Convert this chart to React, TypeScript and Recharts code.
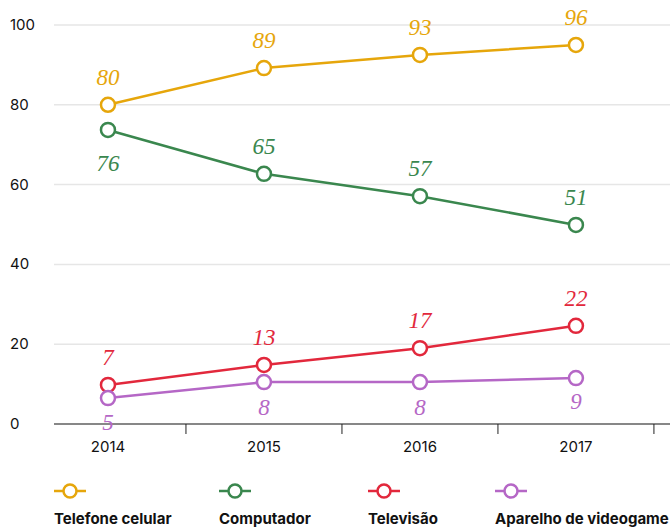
import { LineChart, Line, XAxis, YAxis, CartesianGrid, LabelList } from 'recharts';

const years = [2014, 2015, 2016, 2017];

// plotted positions as drawn in the picture
const telefone = [80, 89.2, 92.5, 95];
const computador = [73.7, 62.7, 57.1, 49.9];
const televisao = [9.8, 14.8, 19, 24.6];
const videogame = [6.5, 10.5, 10.5, 11.5];

// printed value labels
const telefoneLabels = ['80', '89', '93', '96'];
const computadorLabels = ['76', '65', '57', '51'];
const televisaoLabels = ['7', '13', '17', '22'];
const videogameLabels = ['5', '8', '8', '9'];

const yTicks = [0, 20, 40, 60, 80, 100];

const data = years.map((year, i) => ({
	year,
	telefone: telefone[i],
	computador: computador[i],
	televisao: televisao[i],
	videogame: videogame[i],
	telefoneLabel: telefoneLabels[i],
	computadorLabel: computadorLabels[i],
	televisaoLabel: televisaoLabels[i],
	videogameLabel: videogameLabels[i],
}));

const SERIES = [
	{ key: 'telefone', name: 'Telefone celular', color: '#E6A60B', offsets: [-28, -28, -28, -28], legendX: 54 },
	{ key: 'computador', name: 'Computador', color: '#3A874E', offsets: [33, -28, -28, -28], legendX: 219 },
	{ key: 'televisao', name: 'Televisão', color: '#E2283C', offsets: [-28, -28, -28, -28], legendX: 368 },
	{ key: 'videogame', name: 'Aparelho de videogame', color: '#B567C6', offsets: [24, 25, 25, 23], legendX: 495 },
];

const SANS = 'Inter, Roboto, sans-serif';
const SERIF = '"Liberation Serif", "DejaVu Serif", serif';

const XTick = (props: any) => {
	const { x, y, payload } = props;
	if (Number.isInteger(payload.value)) {
		return (
			<text x={x} y={y + 28} textAnchor="middle" fontSize={15} fontFamily={SANS} fill="#111">
				{payload.value}
			</text>
		);
	}
	return <line x1={x} x2={x} y1={y} y2={y + 10} stroke="#222" strokeWidth={1} />;
};

const YTick = (props: any) => {
	const { y, payload } = props;
	return (
		<text x={10} y={y + 5} textAnchor="start" fontSize={15} fontFamily={SANS} fill="#111">
			{payload.value}
		</text>
	);
};

const makeLabel = (color: string, offsets: number[]) => (props: any) => {
	const { x, y, value, index } = props;
	return (
		<text
			x={x}
			y={y + offsets[index] + 8}
			textAnchor="middle"
			fontSize={23}
			fontStyle="italic"
			fontFamily={SERIF}
			fill={color}>
			{value}
		</text>
	);
};

const LegendIcon = ({ color }: { color: string }) => (
	<svg width={32} height={16} style={{ display: 'block' }}>
		<line x1={0} x2={32} y1={8} y2={8} stroke={color} strokeWidth={2.5} />
		<circle cx={16} cy={8} r={6.5} fill="#fff" stroke={color} strokeWidth={2.5} />
	</svg>
);

export default function App() {
	return (
		<div style={{ position: 'absolute', left: 0, top: 0, width: 670, height: 528, background: '#fff' }}>
			<LineChart width={670} height={528} data={data} margin={{ top: 25, right: 0, bottom: 0, left: 0 }}>
				<CartesianGrid vertical={false} stroke="#e6e6e6" strokeWidth={1.5} />
				<XAxis
					dataKey="year"
					type="number"
					domain={[2013.654, 2017.603]}
					allowDataOverflow
					ticks={[2014, 2014.5, 2015, 2015.5, 2016, 2016.5, 2017, 2017.5]}
					interval={0}
					tick={<XTick />}
					tickLine={false}
					tickSize={0}
					tickMargin={0}
					height={104}
					axisLine={{ stroke: '#222', strokeWidth: 1.2 }}
				/>
				<YAxis
					domain={[0, 100]}
					ticks={yTicks}
					width={54}
					axisLine={false}
					tickLine={false}
					tick={<YTick />}
				/>
				{SERIES.map((s) => (
					<Line
						key={s.key}
						dataKey={s.key}
						name={s.name}
						stroke={s.color}
						strokeWidth={2.5}
						dot={{ r: 7, fill: '#fff', stroke: s.color, strokeWidth: 2.5 }}
						activeDot={false}
						isAnimationActive={false}>
						<LabelList dataKey={`${s.key}Label`} content={makeLabel(s.color, s.offsets)} />
					</Line>
				))}
			</LineChart>
			{SERIES.map((s) => (
				<div key={s.key} style={{ position: 'absolute', left: s.legendX, top: 483 }}>
					<LegendIcon color={s.color} />
					<div
						style={{
							marginTop: 12,
							fontFamily: SANS,
							fontWeight: 700,
							fontSize: 15,
							lineHeight: '15px',
							color: '#111',
							whiteSpace: 'nowrap',
						}}>
						{s.name}
					</div>
				</div>
			))}
		</div>
	);
}
